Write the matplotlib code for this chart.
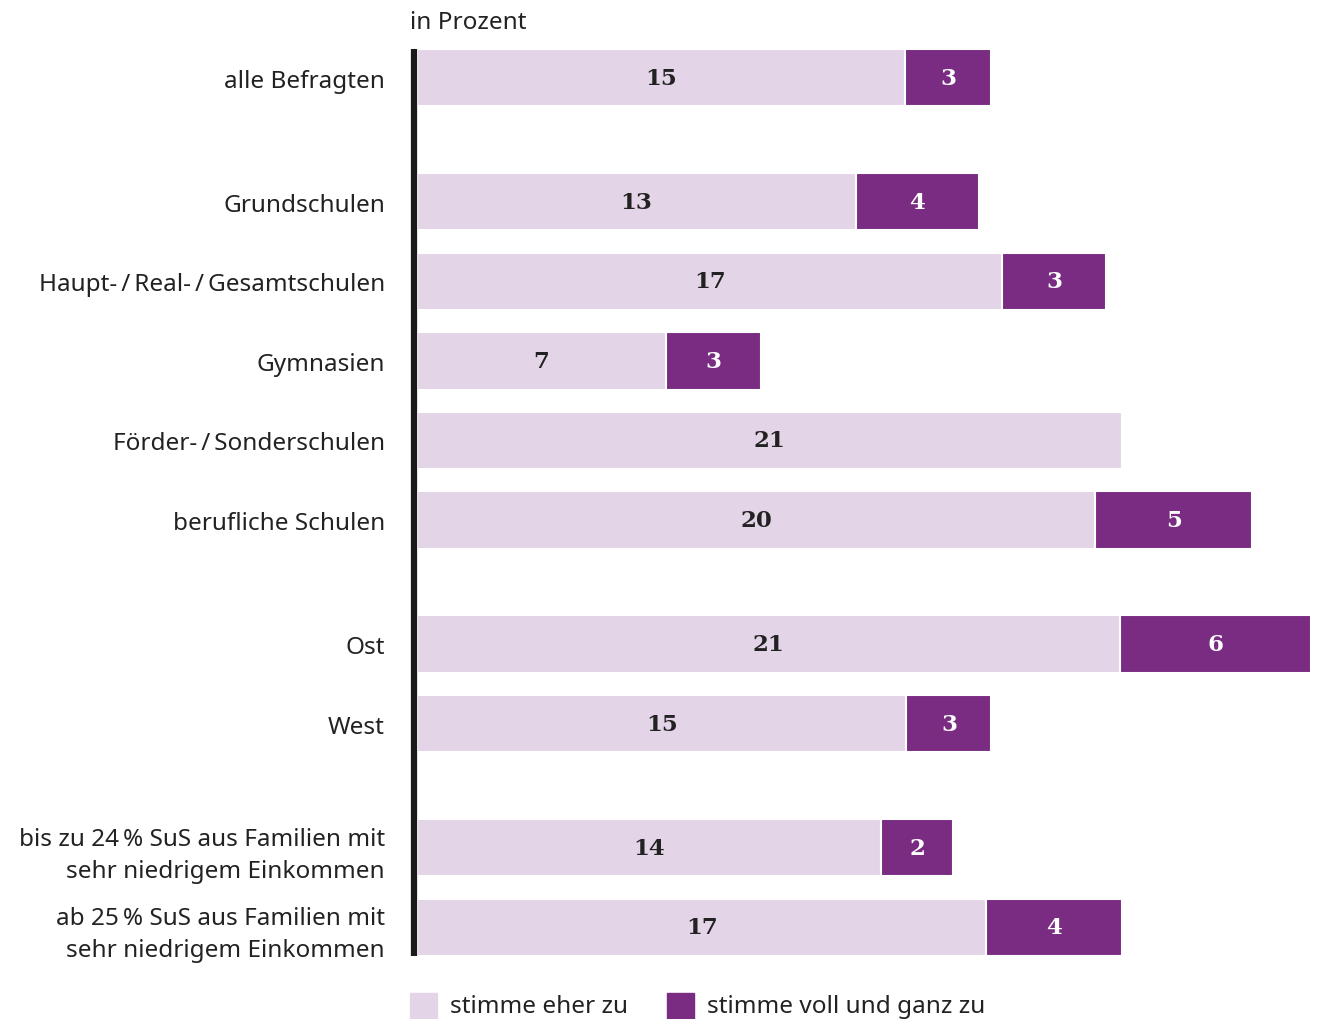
import matplotlib.pyplot as plt
from matplotlib.patches import Rectangle

# Werte (in Prozent), aus dem Bild geschaetzt
kategorien = ["alle Befragten", "Grundschulen",
              "Haupt-\u2009/\u2009Real-\u2009/\u2009Gesamtschulen",
              "Gymnasien", "Förder-\u2009/\u2009Sonderschulen", "berufliche Schulen",
              "Ost", "West",
              "bis zu 24\u2009% SuS aus Familien mit\nsehr niedrigem Einkommen",
              "ab 25\u2009% SuS aus Familien mit\nsehr niedrigem Einkommen"]
eher_zu = [14.55, 13.07, 17.44, 7.41, 21.01, 20.21, 20.95, 14.58, 13.81, 16.96]
voll_zu = [2.56, 3.66, 3.07, 2.83, 0.0, 4.67, 5.68, 2.53, 2.17, 4.05]
eher_txt = ["15", "13", "17", "7", "21", "20", "21", "15", "14", "17"]
voll_txt = ["3", "4", "3", "3", "", "5", "6", "3", "2", "4"]
# Zeilenpositionen mit Gruppenabstand
ypos = [0, 1.56, 2.56, 3.56, 4.56, 5.56, 7.12, 8.12, 9.68, 10.68]

HELL = "#e3d5e7"
DUNKEL = "#7a2c82"
TXT = "#222222"
SANS = ["Noto Sans", "DejaVu Sans"]
SERIF = ["DejaVu Serif"]
FS = 17.5

W, H = 1319, 1020
fig = plt.figure(figsize=(W / 100, H / 100), dpi=100)
ax = fig.add_axes([417 / W, 1 - 957 / H, (1311 - 417) / W, (957 - 50) / H])

hoehe = 0.72
ax.barh(ypos, eher_zu, height=hoehe, color=HELL, edgecolor="white", linewidth=1.5)
ax.barh(ypos, voll_zu, left=eher_zu, height=hoehe, color=DUNKEL,
        edgecolor="white", linewidth=1.5)

for y, a, b, ta, tb in zip(ypos, eher_zu, voll_zu, eher_txt, voll_txt):
    ax.text(a / 2, y, ta, ha="center", va="center", fontsize=16.5,
            fontweight="bold", family=SERIF, color=TXT)
    if tb:
        ax.text(a + b / 2, y, tb, ha="center", va="center", fontsize=16.5,
                fontweight="bold", family=SERIF, color="white")

ax.set_xlim(0, eher_zu[6] + voll_zu[6])
ax.set_ylim(ypos[-1] + hoehe / 2, -hoehe / 2)
ax.set_yticks(ypos)
ax.set_yticklabels(kategorien, family=SANS, fontsize=FS, color=TXT,
                   linespacing=1.45)
ax.tick_params(axis="y", length=0, pad=23)
ax.set_xticks([])
for s in ax.spines.values():
    s.set_visible(False)
# dicke Grundlinie links
ax.plot([-0.09, -0.09], [ypos[0] - hoehe / 2, ypos[-1] + hoehe / 2],
        color="#1a1a1a", linewidth=4.5, clip_on=False, solid_capstyle="butt")

fig.text(410 / W, 1 - 23 / H, "in Prozent", family=SANS, fontsize=FS,
         color=TXT, va="center", ha="left")

# Legende
for x0, farbe, label in [(410, HELL, "stimme eher zu"),
                         (667, DUNKEL, "stimme voll und ganz zu")]:
    fig.patches.append(Rectangle((x0 / W, 1 - 1020 / H), 27 / W, 26 / H,
                                 transform=fig.transFigure, color=farbe))
    fig.text((x0 + 40) / W, 1 - 1007 / H, label, family=SANS, fontsize=FS,
             color=TXT, va="center", ha="left")

fig.savefig("out.png", dpi=100)
